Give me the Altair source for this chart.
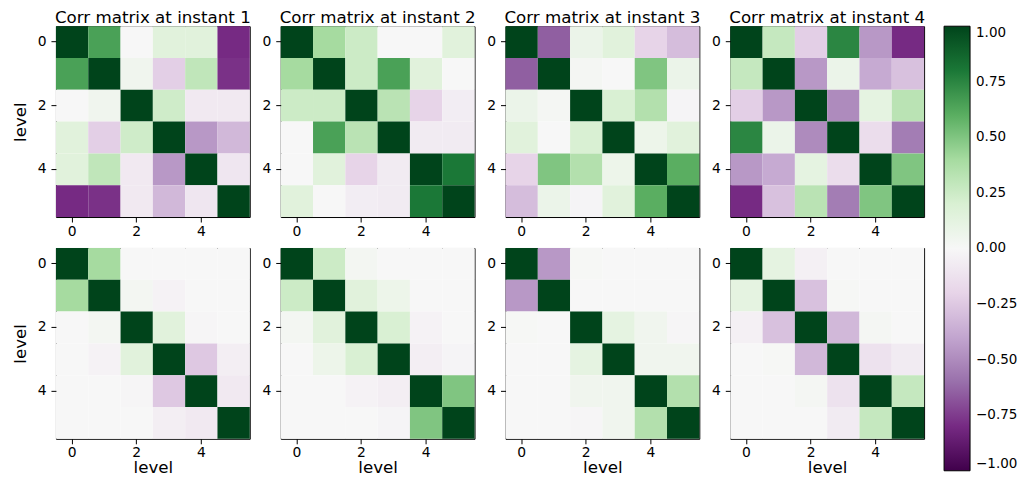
import altair as alt
import pandas as pd

levels = [0, 1, 2, 3, 4, 5]
titles = ["Corr matrix at instant 1", "Corr matrix at instant 2",
          "Corr matrix at instant 3", "Corr matrix at instant 4"]

# top row matrices (rows = level on y, cols = level on x)
top_1 = [
    [1.00, 0.65, 0.00, 0.15, 0.15, -0.80],
    [0.65, 1.00, 0.05, -0.22, 0.30, -0.78],
    [0.00, 0.05, 1.00, 0.24, -0.08, -0.08],
    [0.15, -0.22, 0.24, 1.00, -0.45, -0.32],
    [0.15, 0.30, -0.08, -0.45, 1.00, -0.10],
    [-0.80, -0.78, -0.08, -0.32, -0.10, 1.00],
]
top_2 = [
    [1.00, 0.40, 0.25, 0.00, 0.00, 0.15],
    [0.40, 1.00, 0.25, 0.65, 0.15, 0.00],
    [0.25, 0.25, 1.00, 0.32, -0.20, -0.06],
    [0.00, 0.65, 0.32, 1.00, -0.07, -0.07],
    [0.00, 0.15, -0.20, -0.07, 1.00, 0.80],
    [0.15, 0.00, -0.06, -0.07, 0.80, 1.00],
]
top_3 = [
    [1.00, -0.65, 0.08, 0.15, -0.20, -0.30],
    [-0.65, 1.00, 0.02, 0.00, 0.50, 0.08],
    [0.08, 0.02, 1.00, 0.20, 0.35, -0.02],
    [0.15, 0.00, 0.20, 1.00, 0.07, 0.15],
    [-0.20, 0.50, 0.35, 0.07, 1.00, 0.60],
    [-0.30, 0.08, -0.02, 0.15, 0.60, 1.00],
]
top_4 = [
    [1.00, 0.28, -0.22, 0.75, -0.45, -0.80],
    [0.28, 1.00, -0.45, 0.08, -0.38, -0.28],
    [-0.22, -0.45, 1.00, -0.50, 0.12, 0.32],
    [0.75, 0.08, -0.50, 1.00, -0.15, -0.55],
    [-0.45, -0.38, 0.12, -0.15, 1.00, 0.50],
    [-0.80, -0.28, 0.32, -0.55, 0.50, 1.00],
]
# bottom row matrices
bot_1 = [
    [1.00, 0.40, 0.00, 0.00, 0.00, 0.00],
    [0.40, 1.00, 0.03, -0.03, 0.00, 0.00],
    [0.00, 0.03, 1.00, 0.15, -0.01, 0.00],
    [0.00, -0.03, 0.15, 1.00, -0.25, -0.05],
    [0.00, 0.00, -0.01, -0.25, 1.00, -0.08],
    [0.00, 0.00, 0.00, -0.05, -0.08, 1.00],
]
bot_2 = [
    [1.00, 0.25, 0.03, 0.00, 0.00, 0.00],
    [0.25, 1.00, 0.15, 0.07, 0.00, 0.00],
    [0.03, 0.15, 1.00, 0.20, -0.03, 0.00],
    [0.00, 0.07, 0.20, 1.00, -0.05, -0.02],
    [0.00, 0.00, -0.03, -0.05, 1.00, 0.50],
    [0.00, 0.00, 0.00, -0.02, 0.50, 1.00],
]
bot_3 = [
    [1.00, -0.45, 0.01, 0.00, 0.00, 0.00],
    [-0.45, 1.00, 0.00, 0.00, 0.00, 0.00],
    [0.01, 0.00, 1.00, 0.12, 0.05, -0.01],
    [0.00, 0.00, 0.12, 1.00, 0.05, 0.05],
    [0.00, 0.00, 0.05, 0.05, 1.00, 0.35],
    [0.00, 0.00, -0.01, 0.05, 0.35, 1.00],
]
bot_4 = [
    [1.00, 0.12, -0.04, 0.00, 0.00, 0.00],
    [0.12, 1.00, -0.28, 0.01, 0.00, 0.00],
    [-0.04, -0.28, 1.00, -0.32, 0.02, 0.00],
    [0.00, 0.01, -0.32, 1.00, -0.12, -0.07],
    [0.00, 0.00, 0.02, -0.12, 1.00, 0.28],
    [0.00, 0.00, 0.00, -0.07, 0.28, 1.00],
]
tick_values = [0, 2, 4]
cbar_values = [-1.0, -0.75, -0.5, -0.25, 0.0, 0.25, 0.5, 0.75, 1.0]

# PRGn colormap stops (matplotlib)
cmap_domain = [-1.0, -0.8, -0.6, -0.4, -0.2, 0.0, 0.2, 0.4, 0.6, 0.8, 1.0]
cmap_colors = ["#40004b", "#762a83", "#9970ab", "#c2a5cf", "#e7d4e8", "#f7f7f7",
               "#d9f0d3", "#a6dba0", "#5aae61", "#1b7837", "#00441b"]

FONT = "DejaVu Sans"
TITLE_SIZE = 16.7
TICK_SIZE = 13.9
W = 194
H = 191


def to_df(mat):
    rows = []
    for i, r in enumerate(mat):
        for j, v in enumerate(r):
            rows.append({"row": levels[i], "col": levels[j], "value": v})
    return pd.DataFrame(rows)


color_scale = alt.Scale(type="linear", domain=cmap_domain, range=cmap_colors,
                        interpolate="rgb")

leg = alt.Legend(
    title=None, orient="right", offset=18,
    direction="vertical", gradientLength=445, gradientThickness=26,
    gradientStrokeColor="black", gradientStrokeWidth=1,
    values=cbar_values, format=".2f", labelFont=FONT,
    labelFontSize=13.5, labelColor="black", labelOffset=6,
    labelOverlap=False, padding=0,
)


def panel(mat, title=None, ytitle=False, xtitle=False):
    ch = alt.Chart(to_df(mat)).mark_rect().encode(
        x=alt.X("col:O", scale=alt.Scale(paddingInner=0, paddingOuter=0),
                axis=alt.Axis(values=tick_values, labelAngle=0,
                              title="level" if xtitle else None)),
        y=alt.Y("row:O", scale=alt.Scale(paddingInner=0, paddingOuter=0),
                axis=alt.Axis(values=tick_values,
                              title="level" if ytitle else None)),
        color=alt.Color("value:Q", scale=color_scale, legend=leg),
    )
    props = dict(width=W, height=H)
    if title:
        props["title"] = alt.TitleParams(title, font=FONT, fontSize=TITLE_SIZE,
                                         fontWeight="normal", color="black",
                                         offset=0)
    return ch.properties(**props)


panels = [
    panel(top_1, titles[0], ytitle=True),
    panel(top_2, titles[1]),
    panel(top_3, titles[2]),
    panel(top_4, titles[3]),
    panel(bot_1, ytitle=True, xtitle=True),
    panel(bot_2, xtitle=True),
    panel(bot_3, xtitle=True),
    panel(bot_4, xtitle=True),
]

chart = alt.concat(*panels, columns=4, spacing={"column": 31, "row": 31},
                   bounds="flush").configure_view(
    stroke="black", strokeWidth=1
).configure_axis(
    domain=False, ticks=True, tickColor="black", tickSize=5, tickWidth=1,
    labelFont=FONT, labelFontSize=TICK_SIZE, labelColor="black",
    titleFont=FONT, titleFontSize=TITLE_SIZE,
    titleFontWeight="normal", titleColor="black", grid=False,
).configure_axisX(titlePadding=0, labelPadding=2).configure_axisY(
    titlePadding=8, labelPadding=5, labelAngle=0, titleAngle=270
).properties(
    padding={"left": 3, "top": 0, "right": 0, "bottom": -3.5}
)

chart.save("out.html", embed_options={"renderer": "svg", "actions": False})
